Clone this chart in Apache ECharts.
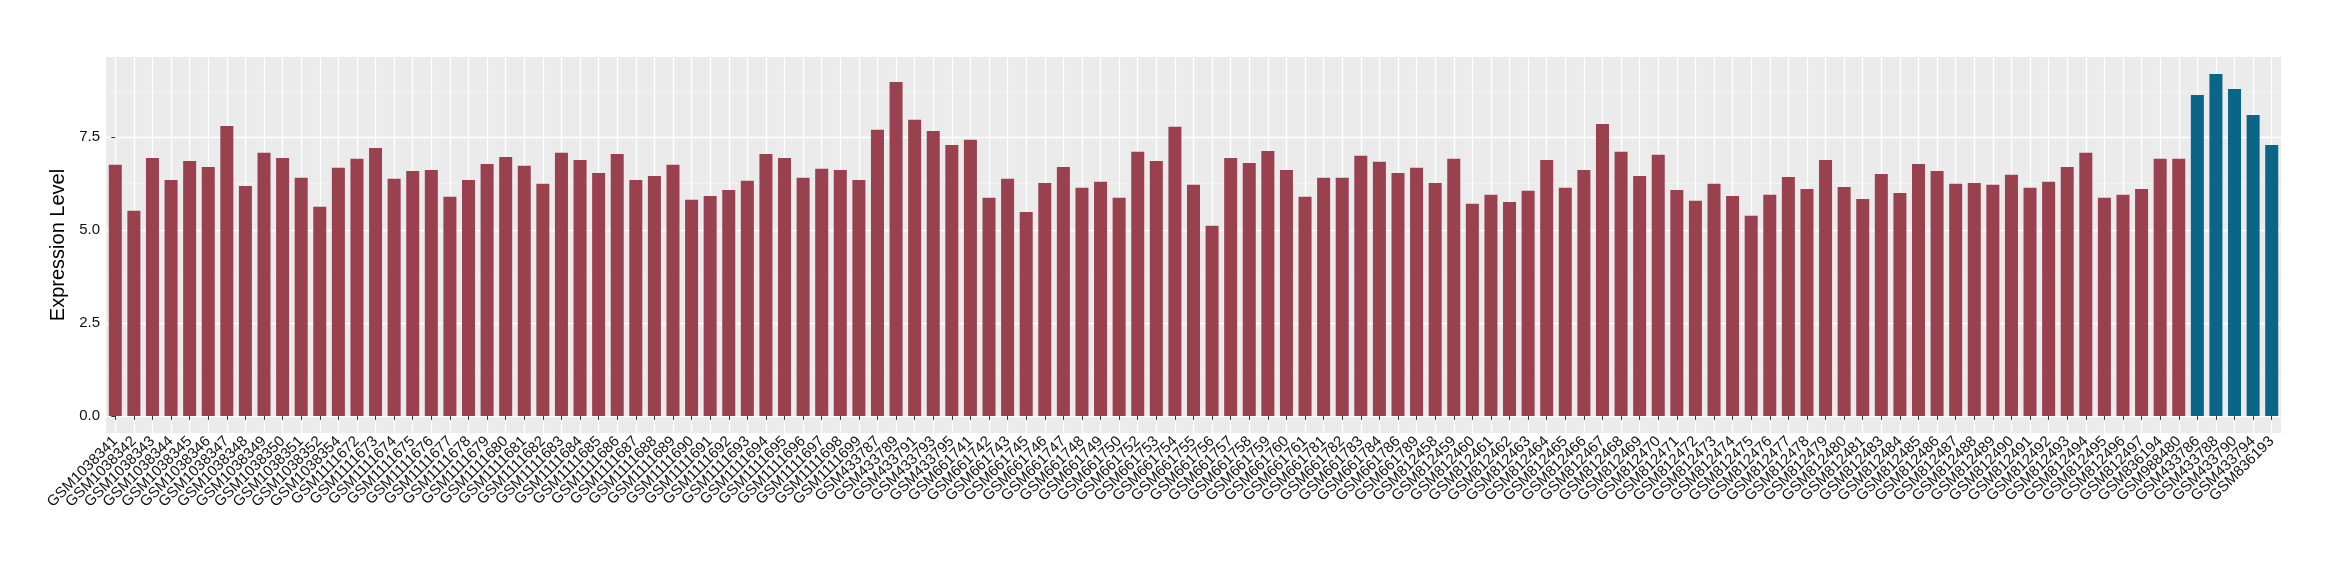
<!DOCTYPE html>
<html>
<head>
<meta charset="utf-8">
<script src="https://cdn.jsdelivr.net/npm/echarts@6/dist/echarts.min.js"></script>
<style>
html,body{margin:0;padding:0;background:#fff;}
#chart{width:2340px;height:580px;}
</style>
</head>
<body>
<div id="chart"></div>
<script>
const categories = [
  'GSM1038341','GSM1038342','GSM1038343','GSM1038344','GSM1038345','GSM1038346','GSM1038347','GSM1038348','GSM1038349','GSM1038350','GSM1038351','GSM1038352','GSM1038354',
  'GSM1111672','GSM1111673','GSM1111674','GSM1111675','GSM1111676','GSM1111677','GSM1111678','GSM1111679','GSM1111680','GSM1111681','GSM1111682','GSM1111683','GSM1111684','GSM1111685','GSM1111686','GSM1111687','GSM1111688','GSM1111689','GSM1111690','GSM1111691','GSM1111692','GSM1111693','GSM1111694','GSM1111695','GSM1111696','GSM1111697','GSM1111698','GSM1111699',
  'GSM433787','GSM433789','GSM433791','GSM433793','GSM433795',
  'GSM661741','GSM661742','GSM661743','GSM661745','GSM661746','GSM661747','GSM661748','GSM661749','GSM661750','GSM661752','GSM661753','GSM661754','GSM661755','GSM661756','GSM661757','GSM661758','GSM661759','GSM661760','GSM661761','GSM661781','GSM661782','GSM661783','GSM661784','GSM661786','GSM661789',
  'GSM812458','GSM812459','GSM812460','GSM812461','GSM812462','GSM812463','GSM812464','GSM812465','GSM812466','GSM812467','GSM812468','GSM812469','GSM812470','GSM812471','GSM812472','GSM812473','GSM812474','GSM812475','GSM812476','GSM812477','GSM812478','GSM812479','GSM812480','GSM812481',
  'GSM812483','GSM812484','GSM812485','GSM812486','GSM812487','GSM812488','GSM812489','GSM812490','GSM812491','GSM812492','GSM812493','GSM812494','GSM812495','GSM812496','GSM812497',
  'GSM836194','GSM988480',
  'GSM433786','GSM433788','GSM433790','GSM433794','GSM836193'
];
const values = [
  6.76,5.52,6.94,6.35,6.86,6.70,7.80,6.19,7.08,6.94,6.41,5.63,6.68,
  6.92,7.21,6.38,6.59,6.62,5.90,6.35,6.78,6.97,6.73,6.25,7.08,6.89,6.54,7.05,6.35,6.46,6.76,5.82,5.92,6.08,6.33,7.05,6.94,6.41,6.65,6.62,6.35,
  7.70,8.99,7.97,7.67,7.29,
  7.43,5.87,6.38,5.49,6.27,6.70,6.14,6.30,5.87,7.11,6.86,7.78,6.22,5.12,6.94,6.81,7.13,6.62,5.90,6.41,6.41,7.00,6.84,6.54,6.68,
  6.27,6.92,5.71,5.95,5.76,6.06,6.89,6.14,6.62,7.86,7.11,6.46,7.03,6.08,5.79,6.25,5.92,5.39,5.95,6.43,6.11,6.89,6.16,5.84,
  6.51,6.00,6.78,6.59,6.25,6.27,6.22,6.49,6.14,6.30,6.70,7.08,5.87,5.95,6.11,
  6.92,6.92,
  8.64,9.20,8.80,8.10,7.29
];
const highlighted = ['GSM433786','GSM433788','GSM433790','GSM433794','GSM836193'];
const yTicks = [0, 2.5, 5, 7.5];
const yMinorTicks = [1.25, 3.75, 6.25, 8.75];

const baseColor = '#99414F';
const highlightColor = '#0A6586';
const font = '"Liberation Sans", Arial, Helvetica, sans-serif';
const categoryIndices = categories.map((_, i) => i);

const chart = echarts.init(document.getElementById('chart'), null, {renderer: 'canvas'});
chart.setOption({
  animation: false,
  backgroundColor: '#ffffff',
  grid: {
    left: 106, right: 59, top: 57, bottom: 147,
    show: true, backgroundColor: '#EBEBEB', borderWidth: 0
  },
  xAxis: [{
    type: 'category',
    data: categories,
    boundaryGap: true,
    position: 'bottom',
    axisLine: {show: false},
    axisTick: {show: true, alignWithLabel: true, length: 4, lineStyle: {color: '#333333', width: 1}},
    axisLabel: {
      interval: 0, rotate: 45, margin: 6, fontSize: 15, color: '#111111',
      fontFamily: font, hideOverlap: false
    },
    splitLine: {show: false}
  }, {
    type: 'value',
    position: 'top',
    min: -0.5, max: categories.length - 0.5,
    axisLine: {show: false},
    axisTick: {show: false, customValues: categoryIndices},
    axisLabel: {show: false, customValues: categoryIndices},
    splitLine: {show: true, lineStyle: {color: '#ffffff', width: 1.3}}
  }],
  yAxis: [{
    type: 'value',
    min: -0.46, max: 9.66,
    name: 'Expression Level',
    nameLocation: 'middle',
    nameGap: 30,
    nameTextStyle: {fontSize: 20, color: '#000000', fontFamily: font},
    axisLine: {show: false},
    axisTick: {show: true, length: 4, customValues: yTicks, lineStyle: {color: '#333333', width: 1}},
    axisLabel: {customValues: yTicks, margin: 6, fontSize: 15, color: '#111111', fontFamily: font,
      formatter: v => Number(v).toFixed(1)},
    splitLine: {show: true, lineStyle: {color: '#ffffff', width: 1.3}}
  }, {
    type: 'value',
    min: -0.46, max: 9.66,
    position: 'left',
    axisLine: {show: false},
    axisTick: {show: false, customValues: yMinorTicks},
    axisLabel: {show: false, customValues: yMinorTicks},
    splitLine: {show: true, lineStyle: {color: '#F5F5F5', width: 0.7}}
  }],
  series: [{
    type: 'bar',
    xAxisIndex: 0,
    yAxisIndex: 0,
    barWidth: '70%',
    data: values.map((v, i) => ({
      value: v,
      itemStyle: {color: highlighted.includes(categories[i]) ? highlightColor : baseColor}
    }))
  }]
});
</script>
</body>
</html>
